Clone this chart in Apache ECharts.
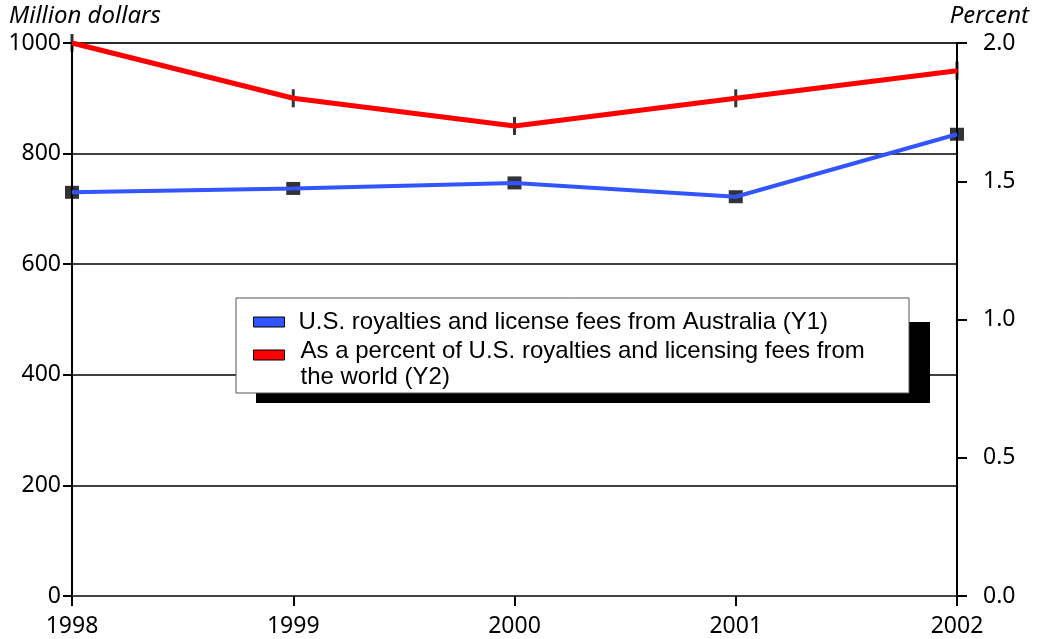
<!DOCTYPE html>
<html>
<head>
<meta charset="utf-8">
<script src="https://cdn.jsdelivr.net/npm/echarts@6/dist/echarts.min.js"></script>
<style>
html,body{margin:0;padding:0;background:#fff;}
#chart{width:1038px;height:639px;}
</style>
</head>
<body>
<div id="chart"></div>
<script>
const years = ['1998', '1999', '2000', '2001', '2002'];
const royaltiesAustralia = [730, 737, 747, 722, 835];
const percentOfWorld = [2.0, 1.8, 1.7, 1.8, 1.9];
const seriesNames = [
  'U.S. royalties and license fees from Australia (Y1)',
  'As a percent of U.S. royalties and licensing fees from\nthe world (Y2)'
];
const leftTicks = { min: 0, max: 1000, interval: 200 };
const rightTicks = { min: 0, max: 2, interval: 0.5 };

const BLUE = '#3355ff';
const RED = '#ff0000';
const tickFont = { fontFamily: 'Noto Sans', fontSize: 23, color: '#000' };

function legendFormatter(name) {
  const lines = name.split('\n');
  if (lines.length === 1) return '{b|' + lines[0] + '}';
  return '{s| }\n' + lines.map(l => '{r|' + l + '}').join('\n');
}

const chart = echarts.init(document.getElementById('chart'), null, { renderer: 'canvas' });
chart.setOption({
  animation: false,
  backgroundColor: '#fff',
  grid: { left: 72, right: 81, top: 43, bottom: 43, show: true, borderColor: '#555', borderWidth: 1, backgroundColor: 'transparent' },
  graphic: [
    { type: 'text', left: 9, top: 4, z: 5, style: { text: 'Million dollars', font: 'italic 24px "Noto Sans"', fill: '#000' } },
    { type: 'text', right: 9, top: 4, z: 5, style: { text: 'Percent', font: 'italic 24px "Noto Sans"', fill: '#000' } },
    { type: 'rect', z: 5, shape: { x: 256, y: 322, width: 674, height: 81 }, style: { fill: '#000' } },
    { type: 'rect', z: 6, shape: { x: 236, y: 298, width: 673, height: 95 }, style: { fill: '#fff', stroke: '#555', lineWidth: 1 } }
  ],
  legend: {
    orient: 'vertical',
    left: 253,
    top: 309,
    z: 10,
    padding: 0,
    itemGap: -15,
    itemWidth: 31,
    itemHeight: 10,
    icon: 'rect',
    selectedMode: false,
    formatter: legendFormatter,
    textStyle: {
      fontFamily: 'Liberation Sans', fontSize: 24, lineHeight: 26, color: '#000',
      rich: {
        b: { fontFamily: 'Liberation Sans', fontSize: 24, lineHeight: 26, color: '#000', padding: [0, 0, 0, 9] },
        r: { fontFamily: 'Liberation Sans', fontSize: 24, lineHeight: 26, color: '#000', padding: [0, 0, 0, 11] },
        s: { fontSize: 1, lineHeight: 18 }
      }
    },
    data: [
      { name: seriesNames[0], itemStyle: { color: BLUE, borderColor: '#000', borderWidth: 1 } },
      { name: seriesNames[1], itemStyle: { color: RED, borderColor: '#000', borderWidth: 1 } }
    ]
  },
  xAxis: {
    type: 'category',
    data: years,
    boundaryGap: false,
    axisLine: { lineStyle: { color: '#444', width: 2 } },
    axisTick: { show: true, length: 10, inside: false, lineStyle: { color: '#000', width: 2 } },
    axisLabel: Object.assign({ margin: 19 }, tickFont),
    splitLine: { show: false }
  },
  yAxis: [
    {
      type: 'value',
      min: leftTicks.min, max: leftTicks.max, interval: leftTicks.interval,
      axisLine: { show: true, lineStyle: { color: '#000', width: 2 } },
      axisTick: { show: true, length: 9, lineStyle: { color: '#000', width: 2 } },
      axisLabel: Object.assign({ margin: 11, formatter: v => String(v) }, tickFont),
      splitLine: { show: true, lineStyle: { color: '#000', width: 1.5 } }
    },
    {
      type: 'value',
      position: 'right',
      min: rightTicks.min, max: rightTicks.max, interval: rightTicks.interval,
      axisLine: { show: true, lineStyle: { color: '#000', width: 2 } },
      axisTick: { show: true, length: 10, lineStyle: { color: '#000', width: 2 } },
      axisLabel: Object.assign({ margin: 26, formatter: v => v.toFixed(1) }, tickFont),
      splitLine: { show: false }
    }
  ],
  series: [
    {
      name: seriesNames[0] + ' markers',
      type: 'scatter',
      yAxisIndex: 0,
      data: royaltiesAustralia,
      symbol: 'rect',
      symbolSize: [14, 13],
      itemStyle: { color: '#000' },
      z: 3,
      silent: true
    },
    {
      name: seriesNames[1] + ' markers',
      type: 'scatter',
      yAxisIndex: 1,
      data: percentOfWorld,
      symbol: 'rect',
      symbolSize: [3, 18],
      itemStyle: { color: '#000' },
      z: 3,
      silent: true
    },
    {
      name: seriesNames[0],
      type: 'line',
      yAxisIndex: 0,
      data: royaltiesAustralia,
      showSymbol: false,
      symbol: 'none',
      lineStyle: { color: BLUE, width: 4 },
      itemStyle: { color: BLUE },
      z: 4
    },
    {
      name: seriesNames[1],
      type: 'line',
      yAxisIndex: 1,
      data: percentOfWorld,
      showSymbol: false,
      symbol: 'none',
      lineStyle: { color: RED, width: 5 },
      itemStyle: { color: RED },
      z: 4
    }
  ]
});
</script>
</body>
</html>
